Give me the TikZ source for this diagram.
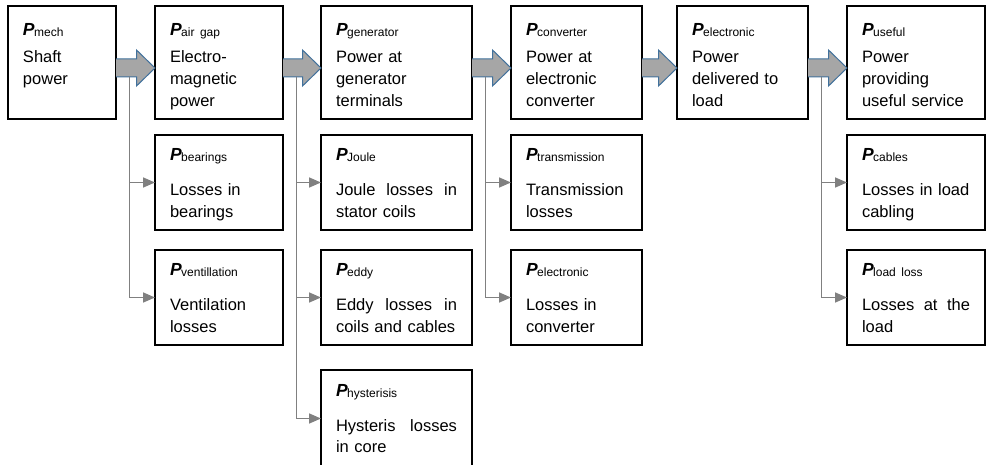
\documentclass[tikz,border=0pt]{standalone}
\usepackage{fontspec}
\setmainfont{Liberation Sans}
\usetikzlibrary{positioning,calc,arrows.meta}
\usepackage{xcolor}

\definecolor{arrowfill}{RGB}{166,166,166}
\definecolor{arrowline}{RGB}{65,113,156}
\definecolor{branchgray}{RGB}{128,128,128}

\newcommand{\pw}[1]{{\fontsize{17.5}{20}\selectfont\bfseries\itshape P}\kern-0.5pt\raisebox{-1pt}{\fontsize{12}{12}\selectfont #1}}

\begin{document}
\begin{tikzpicture} [x=1pt,y=-1pt,
  main/.style={draw, line width=2.5pt, outer sep=0pt, anchor=north west, inner xsep=15pt, inner ysep=0pt,
    align=left, font=\fontsize{16.5}{22}\selectfont, text height=30pt, text depth=83pt},
  loss/.style={draw, line width=1.2pt, outer sep=0pt, inner xsep=15pt, inner ysep=0pt,
    align=left, font=\fontsize{16.5}{21.5}\selectfont, text height=26pt, text depth=69pt},
  bigarrow/.style={fill=arrowfill, draw=arrowline, line width=1pt, line join=miter},
  branch/.style={draw=branchgray, line width=1.6pt, -{Triangle[length=12pt,width=10pt]}}]

  \useasboundingbox (0,0) rectangle (986,465);

  \node[main, text width=78pt] (mech) at (8,6) {\pw{mech}\\[5pt]Shaft\\power};
  \node[main, text width=98pt, right=39pt of mech] (gap) {\pw{air gap}\\[5pt]Electro-\\magnetic\\power};
  \node[main, text width=121pt, right=38pt of gap] (gen) {\pw{generator}\\[5pt]Power at\\generator\\terminals};
  \node[main, text width=101pt, right=39pt of gen] (conv) {\pw{converter}\\[5pt]Power at\\electronic\\converter};
  \node[main, text width=101pt, right=35pt of conv] (elec) {\pw{electronic}\\[5pt]Power\\delivered to\\load};
  \node[main, text width=108pt, right=39pt of elec] (useful) {\pw{useful}\\[5pt]Power\\providing\\useful service};

  \node[loss, text width=98pt, below=16pt of gap] (bear) {\pw{bearings}\\[13.5pt]Losses in\\bearings};
  \node[loss, text width=98pt, below=20pt of bear] (vent) {\pw{ventillation}\\[13.5pt]Ventilation\\losses};
  \node[loss, text width=121pt, below=16pt of gen] (joule) {\pw{Joule}\\[13.5pt]Joule\hfill losses\hfill in\\stator coils};
  \node[loss, text width=121pt, below=20pt of joule] (eddy) {\pw{eddy}\\[13.5pt]Eddy\hfill losses\hfill in\\coils and cables};
  \node[loss, text width=121pt, text depth=71pt, below=25pt of eddy] (hyst) {\pw{hysterisis}\\[13.5pt]Hysteris\hfill losses\\in core};
  \node[loss, text width=101pt, below=16pt of conv] (trans) {\pw{transmission}\\[13.5pt]Transmission\\losses};
  \node[loss, text width=101pt, below=20pt of trans] (econv) {\pw{electronic}\\[13.5pt]Losses in\\converter};
  \node[loss, text width=108pt, below=16pt of useful] (cabl) {\pw{cables}\\[13.5pt]Losses in load\\cabling};
  \node[loss, text width=108pt, below=20pt of cabl] (lload) {\pw{load loss}\\[13.5pt]Losses\hfill at\hfill the\\load};

  \foreach \a/\b in {mech/gap, gap/gen, gen/conv, conv/elec, elec/useful}
    \draw[bigarrow] ($(\a.east)+(0,-3.5)$) -- ($(\b.west)+(-18.5,-3.5)$) -- ($(\b.west)+(-18.5,-12.5)$)
      -- ($(\b.west)+(0,5.5)$) -- ($(\b.west)+(-18.5,23.5)$) -- ($(\b.west)+(-18.5,14.5)$) -- ($(\a.east)+(0,14.5)$);

  \foreach \s/\t in {mech/bear, mech/vent, gap/joule, gap/eddy, gap/hyst, gen/trans, gen/econv, elec/cabl, elec/lload}
    \draw[branch] ($(\s.east)+(13.5,14.5)$) |- (\t.west);

\end{tikzpicture}
\end{document}
